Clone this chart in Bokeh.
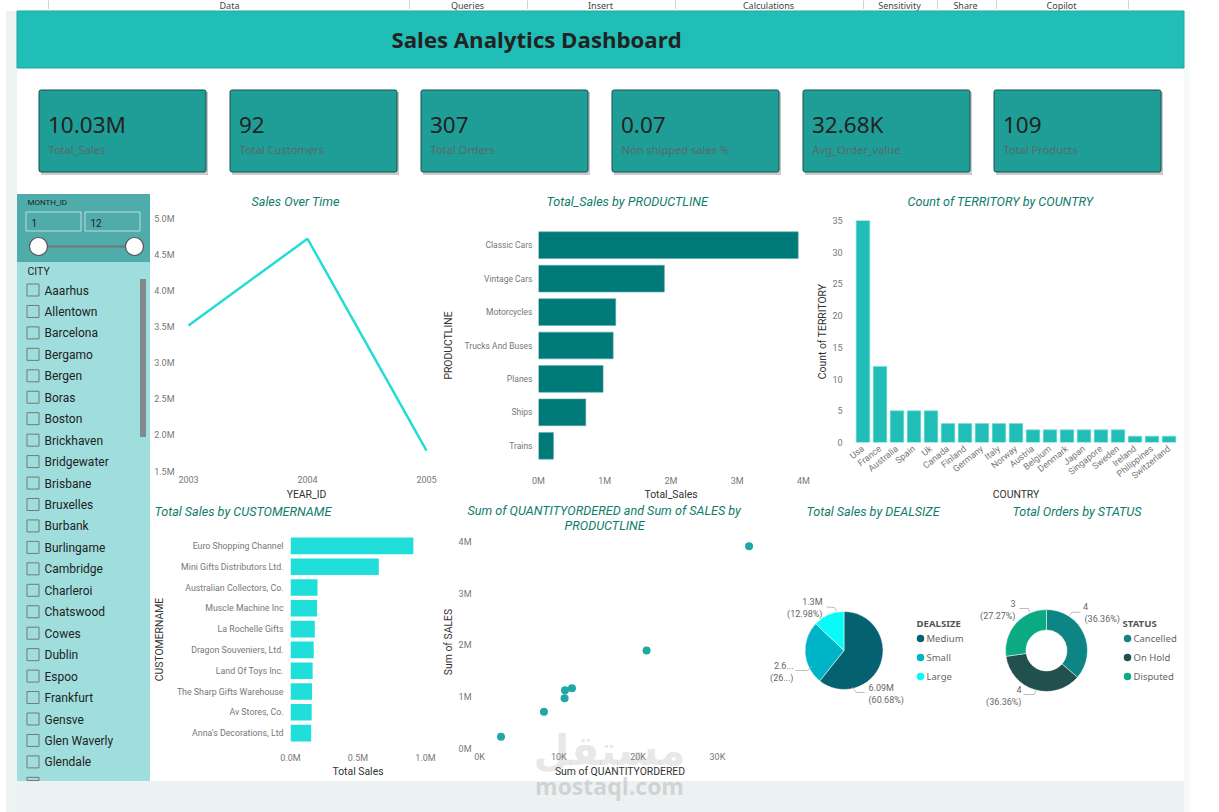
from bokeh.plotting import figure
from bokeh.core.properties import value
from bokeh.models import FixedTicker, PrintfTickFormatter, Title, ColumnDataSource
from bokeh.embed import file_html
from bokeh.resources import INLINE
import numpy as np

# ---------- data ----------
ribbon_groups = ["Data", "Queries", "Insert", "Calculations", "Sensitivity", "Share", "Copilot"]
dashboard_title = "Sales Analytics Dashboard"
kpi_values = ["10.03M", "92", "307", "0.07", "32.68K", "109"]
kpi_labels = ["Total_Sales", "Total Customers", "Total Orders", "Non shipped sales %", "Avg_Order_value", "Total Products"]
cities = ["Aaarhus", "Allentown", "Barcelona", "Bergamo", "Bergen", "Boras", "Boston", "Brickhaven",
          "Bridgewater", "Brisbane", "Bruxelles", "Burbank", "Burlingame", "Cambridge", "Charleroi",
          "Chatswood", "Cowes", "Dublin", "Espoo", "Frankfurt", "Gensve", "Glen Waverly", "Glendale"]
years = [2003, 2004, 2005]
year_sales = [3.52, 4.72, 1.79]
year_ticks = [1.5, 2.0, 2.5, 3.0, 3.5, 4.0, 4.5, 5.0]
product_lines = ["Classic Cars", "Vintage Cars", "Motorcycles", "Trucks And Buses", "Planes", "Ships", "Trains"]
product_sales = [3.92, 1.90, 1.166, 1.127, 0.975, 0.714, 0.226]
product_qty = [33.99, 21.07, 11.66, 10.78, 10.73, 8.13, 2.71]
countries = ["Usa", "France", "Australia", "Spain", "Uk", "Canada", "Finland", "Germany", "Italy", "Norway",
             "Austria", "Belgium", "Denmark", "Japan", "Singapore", "Sweden", "Ireland", "Philippines", "Switzerland"]
territory_counts = [35, 12, 5, 5, 5, 3, 3, 3, 3, 3, 2, 2, 2, 2, 2, 2, 1, 1, 1]
customers = ["Euro Shopping Channel", "Mini Gifts Distributors Ltd.", "Australian Collectors, Co.", "Muscle Machine Inc",
             "La Rochelle Gifts", "Dragon Souveniers, Ltd.", "Land Of Toys Inc.", "The Sharp Gifts Warehouse",
             "Av Stores, Co.", "Anna's Decorations, Ltd"]
customer_sales = [0.91, 0.654, 0.20, 0.197, 0.18, 0.172, 0.164, 0.16, 0.157, 0.153]
deal_sizes = ["Medium", "Small", "Large"]
deal_values = [6.09, 2.64, 1.30]
deal_colors = ["#05616F", "#00B4C8", "#07FBF7"]
statuses = ["Cancelled", "On Hold", "Disputed"]
status_values = [4, 4, 3]
status_colors = ["#0E8585", "#21504E", "#0BAA82"]

# ---------- shared styles ----------
DIN = "Roboto"
UI = "Noto Sans"
HEAD = "Open Sans"
TITLE_C = "#0F7C6C"
TICK_C = "#777777"
AXIS_C = "#333333"


def place(left, top):
    return {"position": "absolute", "left": f"{left}px", "top": f"{top}px"}


def chart(frame, x_range, y_range, title=None, title_left=None, gap=0):
    fl, ft, fr, fb = frame
    L = max(fl - 170, 0)
    R = min(fr + 60, 1219)
    B = min(fb + 70, 812)
    T = ft - 70
    p = figure(width=R - L, height=B - T, x_range=x_range, y_range=y_range,
               min_border_left=fl - L, min_border_right=R - fr, min_border_top=ft - T, min_border_bottom=B - fb,
               toolbar_location=None, output_backend="svg", styles=place(L, T), margin=0)
    p.background_fill_alpha = 0
    p.border_fill_alpha = 0
    p.outline_line_color = None
    p.grid.grid_line_color = None
    if title:
        p.title = make_title(title, title_left - fl, gap)
    return p


def make_title(text, offset, gap=0):
    return Title(text=text, align="left", offset=offset, text_font=DIN, vertical_align="middle",
                 text_font_style="italic", text_font_size="12.6px", text_color=TITLE_C, standoff=gap)


def style_axis(ax, label, standoff=4, label_standoff=4, size="9px"):
    ax.axis_line_color = None
    ax.major_tick_line_color = None
    ax.minor_tick_line_color = None
    ax.major_tick_out = 0
    ax.major_tick_in = 0
    ax.major_label_text_font = DIN
    ax.major_label_text_font_size = size
    ax.major_label_text_color = TICK_C
    ax.major_label_standoff = standoff
    ax.axis_label = label
    ax.axis_label_text_font = DIN
    ax.axis_label_text_font_style = "normal"
    ax.axis_label_text_font_size = "10.4px"
    ax.axis_label_text_color = AXIS_C
    ax.axis_label_standoff = label_standoff


# ---------- background page ----------
bg = figure(width=1219, height=812, x_range=(0, 1219), y_range=(812, 0), x_axis_type=None, y_axis_type=None,
            toolbar_location=None, output_backend="svg", styles=place(0, 0), margin=0, min_border=0)
bg.outline_line_color = None
bg.grid.grid_line_color = None
bg.background_fill_color = "#FFFFFF"
bg.border_fill_color = "#FFFFFF"


def box(l, t, r, b, color, **kw):
    bg.quad(left=[l - 0.5], right=[r - 0.5], top=[t - 0.5], bottom=[b - 0.5], fill_color=color, line_color=kw.pop("line", None), **kw)


def label(x, y, s, size, color, font=UI, style="normal", align="left"):
    bg.text(x=[x], y=[y], text=[s], text_font=value(font), text_font_size=size, text_color=color,
            text_font_style=style, text_align=align, text_baseline="middle")


# ribbon, page bands
box(6, 11, 17, 813, "#EDF2F2")
box(17, 781, 1184, 813, "#ECF1F1")
box(1184, 11, 1190, 813, "#F8F9F9")
for sx in [48, 409, 527, 675, 863, 937, 996, 1128]:
    box(sx, 0, sx + 1, 9, "#D0D0D0")
for s, cx in zip(ribbon_groups, [229, 467, 600, 768, 899, 965, 1061]):
    label(cx, 5, s, "9px", "#444444", align="center")

# header
box(17, 11, 1184, 68, "#20BEB7", line="#1AA9A3")
label(391, 39, dashboard_title, "22.2px", "#222222", font=HEAD, style="bold")

# KPI cards
card_left = [39, 230, 421, 612, 803, 994]
for cl, v, t in zip(card_left, kpi_values, kpi_labels):
    box(cl + 2, 92, cl + 169, 175, "#B5B5B5", fill_alpha=0.7)
    bg.quad(left=[cl - 0.5], right=[cl + 166.5], top=[89.5], bottom=[171.5], fill_color="#1F9E98", line_color="#17514E",
            line_width=1, border_radius=2)
    label(cl + 8.5, 124, v, "22.5px", "#222222")
    label(cl + 9, 149, t, "11.1px", "#56696A")

# slicer panel
box(17, 194, 150, 262, "#50ABAB")
box(17, 262, 150, 781, "#A0DEDE")
label(27, 202, "MONTH_ID", "8px", "#222222", font=DIN)
for l, r, s in [(26, 81, "1"), (85, 140, "12")]:
    bg.quad(left=[l - 0.5], right=[r - 0.5], top=[211.5], bottom=[230.5], fill_color="#50ABAB", line_color="#BFDCDC", line_width=1)
    label(l + 5, 222, s, "10px", "#222222", font=DIN)
bg.line(x=[38, 134], y=[246, 246], line_color="#7B7472", line_width=2)
bg.scatter(x=[38, 134], y=[246, 246], size=18, fill_color="#FFFFFF", line_color="#555555", line_width=1.2)
label(27, 271, "CITY", "10.5px", "#222222", font=DIN)
box(140, 279, 146, 437, "#808A8A")
for i, c in enumerate(cities + [""]):
    cy = 290 + i * 21.45
    bg.quad(left=[26.5], right=[38.5], top=[cy - 6.5], bottom=[min(cy + 5.5, 780)], fill_color=None, line_color="#777777", line_width=1)
    if c:
        label(44, cy, c, "12px", "#222222", font=DIN)

# ---------- Sales over time ----------
pxy = 119.0
s1 = chart((180, 218, 432, 471), (2003 - 8 / pxy, 2005 + 6 / pxy), (1.5, 5.0),
           "Sales Over Time", 251, gap=18)
s1.line(years, year_sales, line_color="#22DDD6", line_width=2.5)
s1.xaxis.ticker = FixedTicker(ticks=years)
s1.yaxis.ticker = FixedTicker(ticks=year_ticks)
s1.yaxis.formatter = PrintfTickFormatter(format="%.1fM")
style_axis(s1.xaxis[0], "YEAR_ID", standoff=4, label_standoff=2)
style_axis(s1.yaxis[0], None, standoff=6)

# ---------- Sales by product line ----------
s2 = chart((538, 228, 803, 462), (0, 4), list(reversed(product_lines)),
           "Total_Sales by PRODUCTLINE", 546, gap=38)
s2.hbar(y=product_lines, right=product_sales, left=0, height=0.8, fill_color="#007A78", line_color="#5FA9A7", line_width=0.6)
s2.xaxis.ticker = FixedTicker(ticks=[0, 1, 2, 3, 4])
s2.xaxis.formatter = PrintfTickFormatter(format="%dM")
style_axis(s2.xaxis[0], "Total_Sales", standoff=13, label_standoff=-1)
style_axis(s2.yaxis[0], "PRODUCTLINE", standoff=6, label_standoff=7, size="8.5px")

# ---------- Territories by country ----------
s3 = chart((854, 220, 1177, 442), countries, (0, 35),
           "Count of TERRITORY by COUNTRY", 907, gap=22)
s3.vbar(x=countries, top=territory_counts, width=0.8, fill_color="#20BEB7", line_color="#7FDCD8", line_width=0.6)
s3.yaxis.ticker = FixedTicker(ticks=[0, 5, 10, 15, 20, 25, 30, 35])
style_axis(s3.xaxis[0], "COUNTRY", standoff=5, label_standoff=0)
s3.xaxis.major_label_orientation = 0.68
style_axis(s3.yaxis[0], "Count of TERRITORY", standoff=12, label_standoff=0)

# ---------- Sales by customer ----------
s4 = chart((290, 535, 425, 743), (0, 1), list(reversed(customers)),
           "Total Sales by CUSTOMERNAME", 154, gap=32)
s4.hbar(y=customers, right=customer_sales, left=0, height=0.8, fill_color="#20DFDA", line_color=None)
s4.xaxis.ticker = FixedTicker(ticks=[0, 0.5, 1])
s4.xaxis.formatter = PrintfTickFormatter(format="%.1fM")
style_axis(s4.xaxis[0], "Total Sales", standoff=9, label_standoff=-1)
style_axis(s4.yaxis[0], "CUSTOMERNAME", standoff=7, label_standoff=8, size="8.8px")

# ---------- Scatter ----------
s5 = chart((479, 535, 760, 748), (0, 281 / 7.93), (0, 213 / 51.6))
s5.add_layout(make_title("PRODUCTLINE", 564 - 479, gap=4), "above")
s5.add_layout(make_title("Sum of QUANTITYORDERED and Sum of SALES by", 467 - 479, gap=-8), "above")
s5.scatter(product_qty, product_sales, size=8, fill_color="#1FA8A4", line_color=None)
s5.xaxis.ticker = FixedTicker(ticks=[0, 10, 20, 30])
s5.xaxis.formatter = PrintfTickFormatter(format="%dK")
s5.yaxis.ticker = FixedTicker(ticks=[0, 1, 2, 3, 4])
s5.yaxis.formatter = PrintfTickFormatter(format="%dM")
style_axis(s5.xaxis[0], "Sum of QUANTITYORDERED", standoff=3, label_standoff=0)
style_axis(s5.yaxis[0], "Sum of SALES", standoff=8, label_standoff=1)


# ---------- Pie and donut ----------
def round_chart(frame, cx, cy, r_out, r_in, vals, cols, names, title, title_left, head, head_x, dot_x):
    fl, ft, fr, fb = frame
    p = chart(frame, (fl - cx, fr - cx), (cy - fb, cy - ft), title, title_left)
    p.xaxis.visible = False
    p.yaxis.visible = False
    frac = np.array(vals, dtype=float) / sum(vals)
    ends = np.pi / 2 - 2 * np.pi * np.cumsum(frac)
    starts = np.r_[np.pi / 2, ends[:-1]]
    src = ColumnDataSource(dict(s=starts, e=ends, c=cols))
    p.annular_wedge(x=0, y=0, inner_radius=r_in, outer_radius=r_out, start_angle="s", end_angle="e",
                    direction="clock", fill_color="c", line_color="#FFFFFF", line_width=0.5, source=src)
    p.text(x=[head_x - cx], y=[cy - 623], text=[head], text_font=value(UI), text_font_size="9.6px", text_font_style="bold",
           text_color="#555555", text_baseline="middle")
    ys = [cy - v for v in (638, 657, 676)]
    p.scatter(x=[dot_x - cx] * 3, y=ys, size=7.5, fill_color=cols, line_color=None)
    p.text(x=[dot_x + 6 - cx] * 3, y=ys, text=names, text_font=value(UI), text_font_size="9.5px", text_color="#666666",
           text_baseline="middle")
    return p


def annotate(p, cx, cy, items, leaders):
    for x, y, s, align in items:
        p.text(x=[x - cx], y=[cy - y], text=[s], text_font=value(DIN), text_font_size="9px", text_color="#666666",
               text_align=align, text_baseline="middle")
    for pts in leaders:
        p.line(x=[a - cx for a, _ in pts], y=[cy - b for _, b in pts], line_color="#BDBDBD", line_width=1)


s6 = round_chart((760, 519, 975, 781), 843.5, 650, 39, 0, deal_values, deal_colors, deal_sizes,
                 "Total Sales by DEALSIZE", 806, "DEALSIZE", 916, 920)
annotate(s6, 843.5, 650,
         [(822, 601, "1.3M", "right"), (822, 613, "(12.98%)", "right"),
          (793, 665, "2.6...", "right"), (793, 677, "(26...)", "right"),
          (868, 687, "6.09M", "left"), (868, 699, "(60.68%)", "left")],
         [[(826, 606.5), (834, 607), (836, 611)], [(795, 670), (807, 670), (811, 666)], [(852, 687), (856, 692), (864, 692)]])

s7 = round_chart((975, 519, 1184, 781), 1046, 650, 41, 20.5, status_values, status_colors, statuses,
                 "Total Orders by STATUS", 1012, "STATUS", 1122, 1127)
annotate(s7, 1046, 650,
         [(1015, 603, "3", "right"), (1015, 615, "(27.27%)", "right"),
          (1085, 606, "4", "center"), (1084, 618, "(36.36%)", "left"),
          (1021, 689, "4", "right"), (1021, 701, "(36.36%)", "right")],
         [[(1019, 608), (1028, 608), (1029, 611.7)], [(1069, 615), (1071.7, 611.7), (1080, 611.7)], [(1023, 694), (1034, 694), (1035, 690)]])

# ---------- Watermark ----------
wm = figure(width=200, height=90, x_range=(0, 200), y_range=(90, 0), x_axis_type=None, y_axis_type=None,
            toolbar_location=None, output_backend="svg", styles=place(510, 722), margin=0, min_border=0)
wm.background_fill_alpha = 0
wm.border_fill_alpha = 0
wm.outline_line_color = None
wm.grid.grid_line_color = None
wm.text(x=[99], y=[28], text=["مستقل"], text_font=value("DejaVu Sans"), text_font_style="bold", text_font_size="41.5px",
        text_color="#9A9A9A", text_alpha=0.24, text_align="center", text_baseline="middle")
wm.text(x=[99], y=[63], text=["mostaql.com"], text_font=value(HEAD), text_font_style="bold", text_font_size="23px",
        text_color="#9A9A9A", text_alpha=0.35, text_align="center", text_baseline="middle")

roots = [bg, s1, s2, s3, s4, s5, s6, s7, wm]
open("out.html", "w").write(file_html(roots, INLINE))
